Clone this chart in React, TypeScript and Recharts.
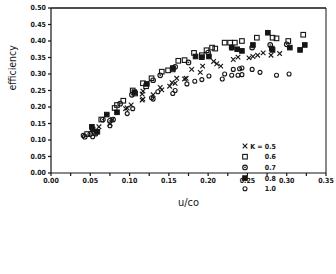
import { ScatterChart, Scatter, XAxis, YAxis, ReferenceLine, Legend } from "recharts";

// K = 0.5 (crosses)
const k05X = [0.061, 0.075, 0.078, 0.095, 0.097, 0.102, 0.116, 0.117, 0.116, 0.117, 0.13, 0.139, 0.141, 0.151, 0.154, 0.158, 0.16, 0.17, 0.172, 0.179, 0.19, 0.193, 0.207, 0.211, 0.216, 0.232, 0.238, 0.252, 0.257, 0.263, 0.27, 0.28, 0.291];
const k05Y = [0.14, 0.149, 0.162, 0.195, 0.197, 0.206, 0.221, 0.224, 0.239, 0.248, 0.237, 0.259, 0.252, 0.263, 0.274, 0.272, 0.287, 0.285, 0.287, 0.314, 0.305, 0.324, 0.338, 0.331, 0.324, 0.344, 0.351, 0.349, 0.353, 0.357, 0.364, 0.357, 0.362];
// K = 0.6 (open squares)
const k06X = [0.046, 0.064, 0.081, 0.084, 0.092, 0.104, 0.107, 0.117, 0.121, 0.128, 0.141, 0.149, 0.155, 0.162, 0.17, 0.182, 0.192, 0.198, 0.205, 0.209, 0.221, 0.228, 0.234, 0.243, 0.262, 0.282, 0.287, 0.302, 0.321];
const k06Y = [0.118, 0.162, 0.197, 0.206, 0.219, 0.25, 0.241, 0.272, 0.263, 0.287, 0.307, 0.311, 0.314, 0.34, 0.342, 0.364, 0.357, 0.372, 0.38, 0.377, 0.395, 0.395, 0.395, 0.4, 0.41, 0.41, 0.408, 0.4, 0.419];
// K = 0.7 (dotted circles)
const k07X = [0.043, 0.05, 0.055, 0.066, 0.075, 0.079, 0.088, 0.103, 0.13, 0.139, 0.158, 0.175, 0.2, 0.23, 0.256, 0.279, 0.3];
const k07Y = [0.11, 0.118, 0.121, 0.162, 0.158, 0.162, 0.21, 0.237, 0.281, 0.296, 0.322, 0.335, 0.365, 0.38, 0.38, 0.388, 0.39];
// K = 0.8 (filled squares)
const k08X = [0.052, 0.053, 0.059, 0.071, 0.084, 0.106, 0.122, 0.155, 0.184, 0.192, 0.201, 0.23, 0.237, 0.243, 0.257, 0.276, 0.281, 0.282, 0.304, 0.317, 0.323];
const k08Y = [0.14, 0.132, 0.125, 0.177, 0.184, 0.245, 0.27, 0.318, 0.353, 0.351, 0.353, 0.38, 0.375, 0.37, 0.388, 0.425, 0.377, 0.373, 0.38, 0.373, 0.388];
// K = 1.0 (open circles)
const k10X = [0.041, 0.053, 0.057, 0.075, 0.097, 0.104, 0.128, 0.13, 0.136, 0.155, 0.158, 0.173, 0.183, 0.192, 0.201, 0.218, 0.221, 0.23, 0.238, 0.232, 0.24, 0.243, 0.243, 0.256, 0.266, 0.287, 0.303];
const k10Y = [0.114, 0.11, 0.118, 0.143, 0.18, 0.195, 0.228, 0.224, 0.246, 0.241, 0.25, 0.27, 0.278, 0.283, 0.294, 0.285, 0.3, 0.296, 0.296, 0.314, 0.316, 0.318, 0.298, 0.314, 0.305, 0.296, 0.3];

const xTicks = [0, 0.025, 0.05, 0.075, 0.1, 0.125, 0.15, 0.175, 0.2, 0.225, 0.25, 0.275, 0.3, 0.325, 0.35];
const yTicks = [0, 0.05, 0.1, 0.15, 0.2, 0.25, 0.3, 0.35, 0.4, 0.45, 0.5];
const legendLabels = ["K = 0.5", "0.6", "0.7", "0.8", "1.0"];

const ink = "#151515";
const tickFont = "'DejaVu Sans Condensed', 'Liberation Sans Narrow', sans-serif";

const toPoints = (xs: number[], ys: number[]) => xs.map((x, i) => ({ x, y: ys[i] }));

function Marker({ kind, cx, cy }: { kind: number; cx: number; cy: number }) {
    const r = 2.3;
    if (kind === 0)
        return (
            <g stroke={ink} strokeWidth={1.1}>
                <line x1={cx - r} y1={cy - r} x2={cx + r} y2={cy + r} />
                <line x1={cx - r} y1={cy + r} x2={cx + r} y2={cy - r} />
            </g>
        );
    if (kind === 1)
        return <rect x={cx - r} y={cy - r} width={r * 2} height={r * 2} fill="none" stroke={ink} strokeWidth={1.1} />;
    if (kind === 2)
        return (
            <g>
                <circle cx={cx} cy={cy} r={r} fill="none" stroke={ink} strokeWidth={1.1} />
                <circle cx={cx} cy={cy} r={0.8} fill={ink} />
            </g>
        );
    if (kind === 3) return <rect x={cx - r} y={cy - r} width={r * 2} height={r * 2} fill={ink} stroke={ink} />;
    return <circle cx={cx} cy={cy} r={r - 0.3} fill="none" stroke={ink} strokeWidth={1.1} />;
}

const shapeFor = (kind: number) => (props: any) => <Marker kind={kind} cx={props.cx} cy={props.cy} />;

function LegendBox() {
    return (
        <svg width={50} height={60}>
            {legendLabels.map((label, i) => (
                <g key={label}>
                    <Marker kind={i} cx={5} cy={6 + i * 10.7} />
                    <text x={36} y={8.5 + i * 10.7} textAnchor="end" fontSize={7} fontWeight="bold" fontFamily={tickFont} fill={ink}>
                        {label}
                    </text>
                </g>
            ))}
        </svg>
    );
}

export default function App() {
    const series = [toPoints(k05X, k05Y), toPoints(k06X, k06Y), toPoints(k07X, k07Y), toPoints(k08X, k08Y), toPoints(k10X, k10Y)];
    const tick = { fontSize: 7, fontWeight: "bold", fontFamily: tickFont, fill: ink };
    const fmt = (v: number) => (Math.round(v * 1000) % 50 === 0 ? v.toFixed(2) : "");

    return (
        <div style={{ position: "absolute", left: 0, top: 0, background: "#fff" }}>
            <ScatterChart width={336} height={274} margin={{ top: 8, right: 10, left: 0, bottom: 0 }}>
                <XAxis
                    type="number"
                    dataKey="x"
                    domain={[0, 0.35]}
                    ticks={xTicks}
                    tickFormatter={fmt}
                    tick={tick}
                    tickSize={3}
                    stroke={ink}
                    strokeWidth={1.2}
                    height={37}
                    interval={0}
                    label={{ value: "u/co", position: "insideBottom", offset: 4, fontSize: 11, fontFamily: tickFont, fill: ink }}
                />
                <YAxis
                    type="number"
                    dataKey="y"
                    domain={[0, 0.5]}
                    ticks={yTicks}
                    tickFormatter={fmt}
                    tick={tick}
                    tickSize={3}
                    stroke={ink}
                    strokeWidth={1.2}
                    width={51}
                    interval={0}
                    label={{ value: "efficiency", angle: -90, position: "insideLeft", offset: 12, fontSize: 10.5, fontFamily: tickFont, fill: ink }}
                />
                <ReferenceLine y={0.5} stroke={ink} strokeWidth={1.5} ifOverflow="visible" />
                <ReferenceLine x={0.35} stroke={ink} strokeWidth={1} ifOverflow="visible" />
                {series.map((pts, i) => (
                    <Scatter key={legendLabels[i]} name={legendLabels[i]} data={pts} shape={shapeFor(i)} isAnimationActive={false} />
                ))}
                <Legend content={() => <LegendBox />} wrapperStyle={{ position: "absolute", left: 240, top: 140, width: 50 }} />
            </ScatterChart>
        </div>
    );
}
